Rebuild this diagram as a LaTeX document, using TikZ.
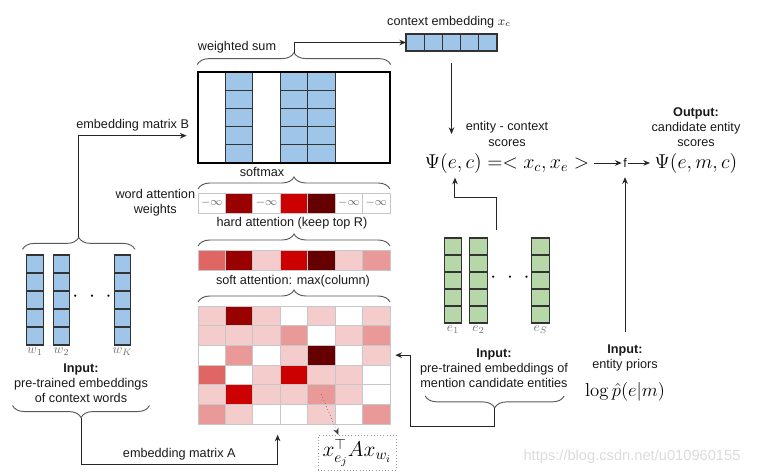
\documentclass[tikz,border=0pt]{standalone}
\usepackage{fix-cm}
\usepackage[no-math]{fontspec}
\setmainfont{Liberation Sans}
\usepackage{amsmath}
\usetikzlibrary{calc, positioning, arrows.meta, decorations.pathreplacing, fit}
\definecolor{cellblue}{HTML}{9FC5E8}
\definecolor{cellgreen}{HTML}{B6D7A8}
\definecolor{redA}{HTML}{F4CCCC}
\definecolor{redB}{HTML}{EA9999}
\definecolor{redC}{HTML}{E06666}
\definecolor{redD}{HTML}{CC0000}
\definecolor{redE}{HTML}{990000}
\definecolor{redF}{HTML}{660000}
\tikzset{
    vcell/.style={rectangle, draw=black!80, line width=0.8pt, inner sep=0pt, outer sep=0pt},
    hcell/.style={rectangle, draw=black!22, line width=0.6pt, minimum width=20.57pt, inner sep=0pt, outer sep=0pt},
    brc/.style={decorate, decoration={brace, amplitude=9pt}, draw=black!65, line width=0.7pt},
    line/.style={->, draw=black!85, line width=0.75pt},
    lbl/.style={font=\fontsize{9.5}{11.4}\selectfont, text=black!90, inner sep=1pt, align=center}
}

\begin{document}
\begin{tikzpicture}[
    x=0.75pt, y=-0.75pt,
    % formulas in the picture
    formula/.style={font=\fontsize{15}{18}\selectfont, inner sep=3.3pt},
    idx/.style={font=\fontsize{10}{12}\selectfont, text=black!55, inner sep=1pt},
    dots/.style={font=\fontsize{16}{18}\selectfont, inner sep=0pt},
    >={Stealth[length=5pt, width=4.2pt]}
]
    \useasboundingbox (0,0) rectangle (759,475);

    % 1. WEIGHTED SUM + CONTEXT EMBEDDING
    \foreach \c in {2,4,5}
        \foreach \r in {1,...,5}
            \node[vcell, fill=cellblue, minimum width=20.57pt, minimum height=13.65pt]
                (ws-\c-\r) at ({198+(\c-0.5)*27.43},{72+(\r-0.5)*18.2}) {};
    \node[draw=black, line width=1.1pt, minimum width=144pt, minimum height=68.25pt, inner sep=0pt] (ws) at (294,117.5) {};
    \node[lbl] (wsum) at (237,47) {weighted sum};
    \draw[brc] ([yshift=5pt]ws.north west) -- ([yshift=5pt]ws.north east);
    \coordinate (wsTip) at ([yshift=14pt]ws.north);

    \foreach \i in {1,...,5}
        \node[vcell, fill=cellblue, minimum width=13.65pt, minimum height=12.75pt]
            (ctx-\i) at ({406+(\i-0.5)*18.2},42.5) {};
    \node[lbl] (ctxlbl) at (449,22) {context embedding $x_c$};
    \draw[line] (wsTip) |- (ctx-1.west);

    % 2. ATTENTION ROWS
    \foreach \col/\txt [count=\c] in {white/$-\infty$, redE/{}, white/$-\infty$, redD/{}, redF/{}, white/$-\infty$, white/$-\infty$}
        \node[hcell, fill=\col, minimum height=15pt, font=\fontsize{8.5}{10}\selectfont, text=black!60]
            (wa-\c) at ({198+(\c-0.5)*27.43},203) {\txt};
    \node[lbl, left=1pt of wa-1] (wawt) {word attention\\weights};
    \node[lbl] (smx) at (262,172) {softmax};
    \draw[brc] ([yshift=3pt]wa-1.north west) -- ([yshift=3pt]wa-7.north east);

    \foreach \col [count=\c] in {redC,redE,redA,redD,redF,redA,redB}
        \node[hcell, fill=\col, minimum height=15pt] (sa-\c) at ({198+(\c-0.5)*27.43},260) {};
    \node[lbl] (hard) at (292,223) {hard attention (keep top R)};
    \draw[brc] ([yshift=3pt]sa-1.north west) -- ([yshift=3pt]sa-7.north east);

    \foreach \rowcols [count=\r] in {
        {redA,redE,redA,white,redA,white,redA},
        {redA,redA,redA,redB,white,redA,redB},
        {white,redB,white,redA,redF,white,redA},
        {redC,white,redA,redD,redA,redA,white},
        {redA,redD,redA,redA,redB,redA,white},
        {redB,redA,white,white,redA,white,redB}}
        \foreach \col [count=\c] in \rowcols
            \node[hcell, fill=\col, minimum height=14.75pt]
                (g-\r-\c) at ({198+(\c-0.5)*27.43},{306+(\r-0.5)*19.67}) {};
    \node[lbl] (soft) at (293,281) {soft attention: max(column)};
    \draw[brc] ([yshift=3pt]g-1-1.north west) -- ([yshift=3pt]g-1-7.north east);

    \node[draw=black!40, dotted, font=\fontsize{16}{18}\selectfont, minimum width=58.5pt, minimum height=26pt, inner sep=1pt]
        (xa) at (357,452.5) {$x_{e_j}^{\top}Ax_{w_i}$};
    \draw[dotted, ->, black!75] (g-5-5.center) -- ([xshift=-14pt]xa.north);

    % 3. CONTEXT WORDS (left)
    \foreach \x [count=\c] in {35,61.5,122.5}
        \foreach \r in {1,...,5}
            \node[vcell, fill=cellblue, minimum width=12.4pt, minimum height=13.5pt]
                (w-\c-\r) at (\x,{255+(\r-0.5)*18}) {};
    \node[fit=(w-1-1)(w-3-5), inner sep=0pt] (wcols) {};
    \node[idx, below=1pt of w-1-5] (wl1) {$w_1$};
    \node[idx, below=1pt of w-2-5] (wl2) {$w_2$};
    \node[idx, below=1pt of w-3-5] (wlK) {$w_K$};
    \node[dots] (wdots) at (92,297) {$\cdot\hspace{4.5pt}\cdot\hspace{4.5pt}\cdot$};
    \draw[brc] ([xshift=-3pt,yshift=4pt]wcols.north west) -- ([xshift=3pt,yshift=4pt]wcols.north east);
    \coordinate (wTop) at ([yshift=13pt]wcols.north);

    \node[lbl] (win) at (81,383) {\textbf{Input:}\\pre-trained embeddings\\of context words};
    \draw[brc] ([yshift=-1pt]win.south east) -- ([yshift=-1pt]win.south west);
    \coordinate (wBot) at ([yshift=-10pt]win.south);

    \path (ws.west |- ws-2-4.center) ++(-8pt,0) coordinate (bIn);
    \draw[line] (wTop) |- (bIn) node[lbl, pos=0.75, above=2pt] {embedding matrix B};
    \coordinate (gIn) at ([xshift=-2pt,yshift=-8pt]g-6-4.south west);
    \draw[line] (wBot) -- ++(0,47) -| (gIn) node[lbl, pos=0.25, above=2pt] {embedding matrix A};

    % 4. CANDIDATE ENTITIES (right)
    \foreach \x [count=\c] in {453,478.5,540.5}
        \foreach \r in {1,...,5}
            \node[vcell, fill=cellgreen, minimum width=13.1pt, minimum height=12.75pt]
                (e-\c-\r) at (\x,{238+(\r-0.5)*17}) {};
    \node[fit=(e-1-1)(e-3-5), inner sep=0pt] (ecols) {};
    \node[idx, below=1pt of e-1-5] (el1) {$e_1$};
    \node[idx, below=1pt of e-2-5] (el2) {$e_2$};
    \node[idx, below=1pt of e-3-5] (elS) {$e_S$};
    \node[dots] (edots) at (510,278) {$\cdot\hspace{4.5pt}\cdot\hspace{4.5pt}\cdot$};

    \node[lbl] (ein) at (494,368) {\textbf{Input:}\\pre-trained embeddings of\\mention candidate entities};
    \draw[brc] ([xshift=-4pt,yshift=-5pt]ein.south east) -- ([xshift=5pt,yshift=-5pt]ein.south west);
    \coordinate (eBot) at ([yshift=-14pt]ein.south);
    \draw[line] (eBot) -- ++(0,19) -| ([xshift=15pt]g-3-7.east) -- ([xshift=4pt]g-3-7.east);

    % 5. SCORES
    \node[formula] (psi) at (507,163) {$\Psi(e,c) =< x_c, x_e >$};
    \node[lbl] (psilbl) at (507,134) {entity - context\\scores};
    \node[lbl] (f) at (625,163) {f};
    \node[formula] (out) at (696,163) {$\Psi(e,m,c)$};
    \node[lbl] (outlbl) at (696,127) {\textbf{Output:}\\candidate entity\\scores};
    \node[lbl] (prior) at (625,358) {\textbf{Input:}\\entity priors};
    \node[formula, font=\fontsize{14}{16}\selectfont, inner sep=0.5pt] (logp) at (625,392) {$\log\hat{p}(e|m)$};

    \draw[line] ([yshift=-9pt]ctx-3.south) -- (ctx-3.south |- psilbl.center);
    \coordinate (psiE) at ([xshift=26pt]psi.south west);
    \draw[line] ([yshift=6pt]ecols.north) -- ++(0,-32) -| (psiE);
    \draw[line] (psi) -- (f);
    \draw[line] (f) -- (out);
    \draw[line] ([yshift=8pt]prior.north) -- ([yshift=-6pt]f.south);

    \node[text=black!14, font=\fontsize{11}{13}\selectfont] (wm) at (632,457) {https://blog.csdn.net/u010960155};

\end{tikzpicture}
\end{document}
